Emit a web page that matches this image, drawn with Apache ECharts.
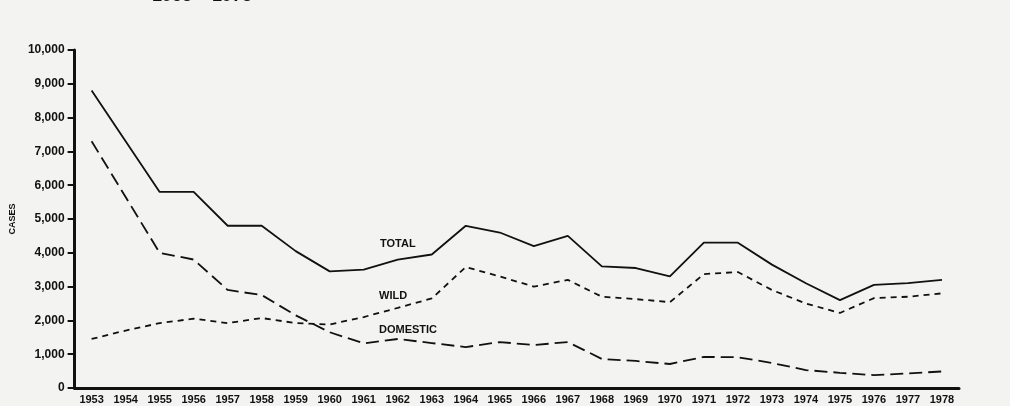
<!DOCTYPE html>
<html>
<head>
<meta charset="utf-8">
<script src="https://cdn.jsdelivr.net/npm/echarts@6/dist/echarts.min.js"></script>
<style>
  html, body { margin: 0; padding: 0; background: #f3f3f2; }
  #chart { width: 1010px; height: 406px; }
</style>
</head>
<body>
<div id="chart"></div>
<script>
// years on the x axis
var years = ['1953', '1954', '1955', '1956', '1957', '1958', '1959', '1960', '1961',
    '1962', '1963', '1964', '1965', '1966', '1967', '1968', '1969', '1970', '1971',
    '1972', '1973', '1974', '1975', '1976', '1977', '1978']

// cases
var total = [8800, 7300, 5800, 5800, 4800, 4800, 4050, 3450, 3500, 3800, 3950, 4800, 4600,
    4200, 4500, 3600, 3550, 3300, 4300, 4300, 3650, 3100, 2600, 3050, 3100, 3200]
var wild = [1450, 1700, 1920, 2050, 1920, 2070, 1920, 1880, 2100, 2370, 2650, 3580, 3300,
    3000, 3200, 2700, 2630, 2540, 3370, 3430, 2900, 2500, 2220, 2660, 2700, 2800]
var domestic = [7300, 5650, 4000, 3800, 2900, 2750, 2150, 1650, 1320, 1450, 1330, 1210, 1360,
    1270, 1360, 860, 800, 710, 920, 910, 740, 530, 450, 380, 430, 490]

var font = 'Liberation Sans'
var chart = echarts.init(document.getElementById('chart'))

var option = {
    backgroundColor: '#f3f3f2',
    animation: false,
    grid: { left: 73, right: 51, top: 50, bottom: 18 },
    xAxis: {
        type: 'category',
        data: years,
        boundaryGap: true,
        axisLine: { lineStyle: { color: '#111', width: 3 } },
        axisTick: { length: 5, lineStyle: { color: '#111', width: 2 } },
        axisLabel: {
            color: '#111', fontFamily: font, fontWeight: 'bold',
            fontSize: 11, margin: 6, interval: 0
        },
        splitLine: { show: false }
    },
    yAxis: {
        type: 'value',
        min: 0,
        max: 10000,
        interval: 1000,
        name: 'CASES',
        nameLocation: 'middle',
        nameGap: 54,
        nameRotate: 90,
        nameTextStyle: { color: '#111', fontFamily: font, fontWeight: 'bold', fontSize: 9 },
        axisLine: { show: true, lineStyle: { color: '#111', width: 3 } },
        axisTick: { show: true, length: 7, lineStyle: { color: '#111', width: 2 } },
        axisLabel: {
            color: '#111', fontFamily: font, fontWeight: 'bold', fontSize: 12, margin: 10,
            formatter: function (v) { return v.toLocaleString('en-US') }
        },
        splitLine: { show: false }
    },
    graphic: [
        {
            type: 'text', left: 152, top: -13,
            style: { text: '1953 – 1978', font: 'bold 18px "Liberation Sans"', fill: '#111' }
        },
        {
            type: 'text', left: 380, top: 238,
            style: { text: 'TOTAL', font: 'bold 11px "Liberation Sans"', fill: '#111' }
        },
        {
            type: 'text', left: 379, top: 290,
            style: { text: 'WILD', font: 'bold 11px "Liberation Sans"', fill: '#111' }
        },
        {
            type: 'text', left: 379, top: 324,
            style: { text: 'DOMESTIC', font: 'bold 11px "Liberation Sans"', fill: '#111' }
        }
    ],
    series: [
        {
            name: 'Total',
            type: 'line',
            data: total,
            symbol: 'none',
            lineStyle: { color: '#111', width: 1.8, type: 'solid' }
        },
        {
            name: 'Wild',
            type: 'line',
            data: wild,
            symbol: 'none',
            lineStyle: { color: '#111', width: 1.8, type: [6, 5] }
        },
        {
            name: 'Domestic',
            type: 'line',
            data: domestic,
            symbol: 'none',
            lineStyle: { color: '#111', width: 1.8, type: [13, 6] }
        }
    ]
}
chart.setOption(option)
</script>
</body>
</html>
